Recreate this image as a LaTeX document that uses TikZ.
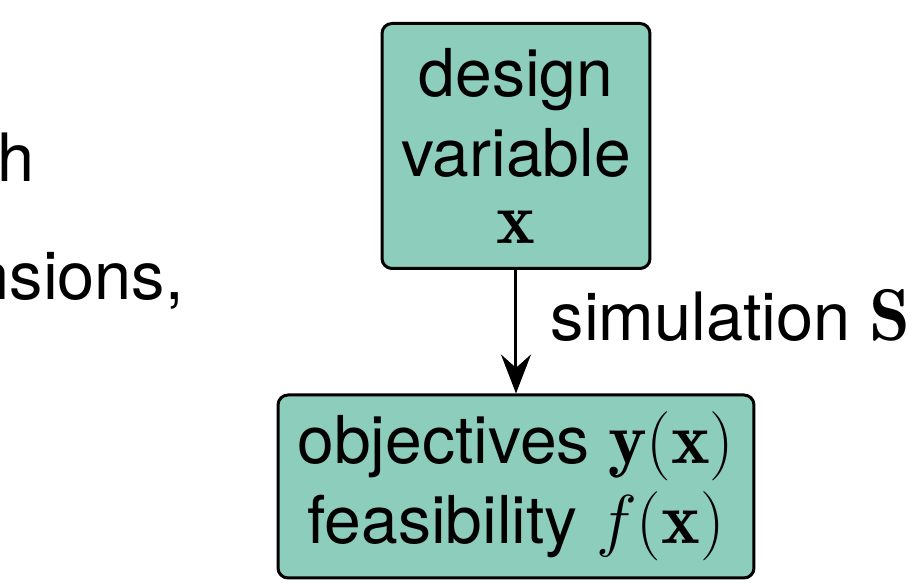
\documentclass[tikz,border=0pt]{standalone}
\usepackage{amsmath}
\usepackage{xcolor}
\usepackage{fontspec}
\newfontfamily\helv{TeX Gyre Heros}
\usepackage{tikz}
\usetikzlibrary{arrows.meta, positioning}

\definecolor{boxteal}{RGB}{141,205,188}
\newcommand{\bigmath}[1]{{\fontsize{22}{24}\selectfont$#1$}}

\begin{document}
\begin{tikzpicture}[x=0.3pt, y=-0.3pt,
  block/.style={draw=black, fill=boxteal, line width=0.9pt, rounded corners=3pt, align=center, inner sep=0pt, font=\helv\fontsize{19.8}{24}\selectfont},
  side/.style={inner sep=0pt, font=\helv\fontsize{20}{24}\selectfont},
  arrow/.style={-{Stealth[length=11.7pt, width=9pt, inset=4pt]}, line width=0.9pt, black},
]
  \useasboundingbox (0,0) rectangle (916,586);

  % cut-off text on the left
  \node[side, anchor=base west] (cuth) at (-3,182) {h};
  \node[side, anchor=base west] (cutn) at (-28,300) {nsions,};

  \node[block, minimum width=80.4pt, minimum height=73.5pt] (design) at (516,146)
    {design\\variable\\[-4pt]\bigmath{\mathbf{x}}};
  \node[block, minimum width=142.8pt, minimum height=54.9pt] (obj) at (516,486.5)
    {objectives \bigmath{\mathbf{y}(\mathbf{x})}\\feasibility \bigmath{f(\mathbf{x})}};

  \draw[arrow] (design) -- node[side, right=10pt, yshift=5pt] (sim) {simulation \bigmath{\mathbf{S}}} (obj);
\end{tikzpicture}
\end{document}
